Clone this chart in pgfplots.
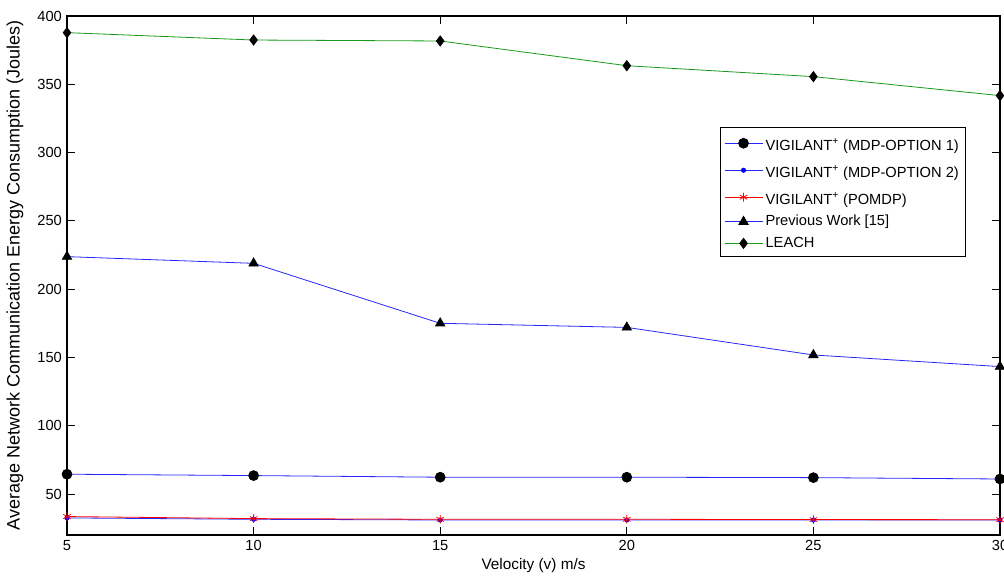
\documentclass[border=0pt]{standalone}
\usepackage{fontspec}
\setmainfont{Liberation Sans}
\usepackage{pgfplots}
\pgfplotsset{compat=1.18}
\definecolor{mgreen}{rgb}{0.1,0.6,0.1}
\definecolor{mblue}{rgb}{0.15,0.15,1}
\newcommand{\lstrut}{\rule[-4.8pt]{0pt}{16.6pt}}
\begin{document}
\fontsize{11pt}{13pt}\selectfont
\begin{tikzpicture}
\begin{axis}[name=ax, scale only axis, width=699.75pt, height=389.25pt,
 xmin=5, xmax=30, ymin=20, ymax=400,
 xtick={5,10,...,30}, ytick={50,100,...,400},
 tick align=inside, major tick length=6pt,
 tick style={black, line width=0.6pt},
 axis line style={black, line width=1pt},
 /pgf/number format/assume math mode=true,
 tick label style={font=\fontsize{11pt}{13pt}\selectfont},
 xlabel={Velocity (v) m/s},
 ylabel={Average Network Communication Energy Consumption (Joules)},
 xlabel style={font=\fontsize{11.5pt}{13pt}\selectfont, at={(axis description cs:0.5,-0.0597)}, anchor=center},
 ylabel style={font=\fontsize{13.5pt}{15pt}\selectfont, at={(axis description cs:-0.0557,0.5)}, anchor=center},
 legend cell align=left,
 legend style={at={(0.9636,0.536)}, anchor=south east, draw=black, line width=0.8pt,
   font=\fontsize{11pt}{13pt}\selectfont, inner xsep=3pt, inner ysep=3pt, row sep=2.8pt},
 legend image code/.code={\draw[mark repeat=2,mark phase=2] plot coordinates {(0cm,0cm) (0.5cm,0cm) (1.0cm,0cm)};},
]
\addplot[mblue, line width=0.6pt, mark=*, mark size=3.7pt, mark options={black, fill=black, solid}]
 coordinates {(5,64.5) (10,63.5) (15,62.3) (20,62.3) (25,62) (30,61)};
\addlegendentry{\lstrut VIGILANT\textsuperscript{+} (MDP-OPTION 1)}
\addplot[mblue, line width=0.6pt, mark=*, mark size=1.6pt, mark options={blue, fill=blue, solid}]
 coordinates {(5,32.5) (10,31.5) (15,31) (20,31) (25,31) (30,31)};
\addlegendentry{\lstrut VIGILANT\textsuperscript{+} (MDP-OPTION 2)}
\addplot[red, line width=0.6pt, mark=asterisk, mark size=3.2pt, mark options={red, solid}]
 coordinates {(5,33.5) (10,32) (15,31.5) (20,31.5) (25,31.3) (30,31.2)};
\addlegendentry{\lstrut VIGILANT\textsuperscript{+} (POMDP)}
\addplot[mblue, line width=0.6pt, mark=triangle*, mark size=4pt, mark options={black, fill=black, solid}]
 coordinates {(5,223.8) (10,218.9) (15,175) (20,172) (25,151.8) (30,143.3)};
\addlegendentry{Previous Work [15]}
\addplot[mgreen, line width=0.6pt, mark=diamond*, mark size=3.8pt, mark options={black, fill=black, solid}]
 coordinates {(5,387.8) (10,382.4) (15,381.7) (20,363.6) (25,355.6) (30,341.7)};
\addlegendentry{LEACH}
\end{axis}
\pgfresetboundingbox
\useasboundingbox ([xshift=-50.25pt,yshift=-33.75pt]ax.south west) rectangle ([xshift=3pt,yshift=12pt]ax.north east);
\end{tikzpicture}
\end{document}
